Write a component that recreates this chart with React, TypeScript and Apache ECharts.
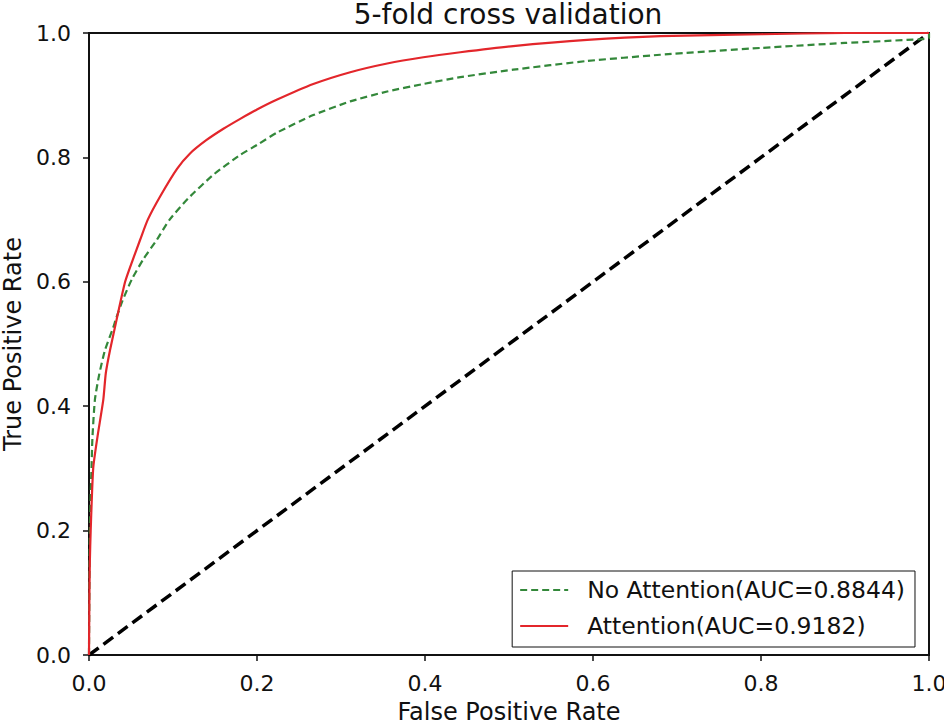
import React, { useEffect, useRef } from "react";
import * as echarts from "echarts";

const title = "5-fold cross validation";
const xName = "False Positive Rate";
const yName = "True Positive Rate";

const noAttnName = "No Attention(AUC=0.8844)";
const noAttnFpr = [0, 0.0005, 0.001, 0.002, 0.003, 0.004, 0.007, 0.012, 0.019, 0.029, 0.032, 0.04, 0.051, 0.065, 0.081, 0.096, 0.118, 0.148, 0.18, 0.2, 0.224, 0.267, 0.311, 0.355, 0.398, 0.442, 0.505, 0.593, 0.68, 0.8, 0.9, 0.99, 1.0, 1.0];
const noAttnTpr = [0, 0.12, 0.2, 0.26, 0.3, 0.347, 0.41, 0.45, 0.49, 0.527, 0.54, 0.57, 0.604, 0.637, 0.668, 0.7, 0.734, 0.772, 0.804, 0.82, 0.84, 0.868, 0.89, 0.906, 0.918, 0.929, 0.941, 0.955, 0.965, 0.976, 0.984, 0.99, 0.992, 1.0];

const attnName = "Attention(AUC=0.9182)";
const attnFpr = [0, 0.0005, 0.001, 0.002, 0.005, 0.01, 0.017, 0.02, 0.025, 0.033, 0.043, 0.052, 0.061, 0.07, 0.085, 0.105, 0.12, 0.14, 0.16, 0.18, 0.2, 0.224, 0.267, 0.311, 0.355, 0.398, 0.442, 0.505, 0.593, 0.68, 0.8, 0.9, 1.0];
const attnTpr = [0, 0.1, 0.15, 0.2, 0.3, 0.35, 0.41, 0.453, 0.49, 0.54, 0.6, 0.635, 0.668, 0.7, 0.738, 0.782, 0.806, 0.828, 0.846, 0.862, 0.877, 0.893, 0.918, 0.937, 0.951, 0.961, 0.969, 0.979, 0.989, 0.995, 0.998, 1.0, 1.0];

const chanceX = [0, 1];
const chanceY = [0, 1];

const zip = (a: number[], b: number[]) => a.map((v, i) => [v, b[i]]);

export default function App() {
  const ref = useRef<HTMLDivElement>(null);
  useEffect(() => {
    if (!ref.current) return;
    const chart = echarts.init(ref.current, undefined, { renderer: "svg" });
    const font = "DejaVu Sans";
    const axisCommon = {
      type: "value" as const,
      min: 0,
      max: 1,
      interval: 0.2,
      nameLocation: "middle" as const,
      nameTextStyle: { fontFamily: font, fontSize: 24, color: "#111" },
      axisLine: { show: true, lineStyle: { color: "#111", width: 2 } },
      axisTick: { show: true, inside: false, length: 6, lineStyle: { color: "#111", width: 1.5 } },
      splitLine: { show: false },
      axisLabel: {
        fontFamily: font,
        fontSize: 22,
        color: "#111",
        formatter: (v: number) => v.toFixed(1),
      },
    };
    chart.setOption({
      animation: false,
      backgroundColor: "#fff",
      title: {
        text: title,
        left: 508,
        textAlign: "center",
        top: 0,
        padding: 0,
        textStyle: { fontFamily: font, fontSize: 28, fontWeight: "normal", color: "#111" },
      },
      grid: {
        left: 89,
        right: 15,
        top: 33,
        bottom: 70,
        outerBoundsMode: "none",
        containLabel: false,
        show: true,
        borderColor: "#111",
        borderWidth: 2,
        backgroundColor: "transparent",
      },
      xAxis: {
        ...axisCommon,
        name: xName,
        nameGap: 45,
        axisLabel: { ...axisCommon.axisLabel, margin: 17 },
      },
      yAxis: {
        ...axisCommon,
        name: yName,
        nameGap: 63,
        axisLabel: { ...axisCommon.axisLabel, margin: 18 },
      },
      legend: {
        data: [noAttnName, attnName],
        orient: "vertical",
        right: 29,
        bottom: 78,
        itemWidth: 48,
        itemHeight: 24,
        itemGap: 12,
        padding: [7, 10, 9, 7],
        borderColor: "#111",
        borderWidth: 1,
        borderRadius: 0,
        backgroundColor: "#fff",
        itemStyle: { opacity: 0 },
        textStyle: { fontFamily: font, fontSize: 23.5, color: "#111", padding: [0, 0, 0, 14] },
      },
      series: [
        {
          name: "chance",
          type: "line",
          data: zip(chanceX, chanceY),
          symbol: "none",
          lineStyle: { color: "#000", width: 3.5, type: [12, 6] },
          z: 3,
        },
        {
          name: noAttnName,
          type: "line",
          data: zip(noAttnFpr, noAttnTpr),
          symbol: "none",
          smooth: 0.2,
          itemStyle: { color: "#33883a" },
          lineStyle: { color: "#33883a", width: 2.2, type: [7, 4] },
          z: 4,
        },
        {
          name: attnName,
          type: "line",
          data: zip(attnFpr, attnTpr),
          symbol: "none",
          smooth: 0.2,
          itemStyle: { color: "#e3262b" },
          lineStyle: { color: "#e3262b", width: 2.2 },
          z: 5,
        },
      ],
    });
    return () => chart.dispose();
  }, []);
  return <div ref={ref} style={{ width: 944, height: 725, position: "absolute", left: 0, top: 0 }} />;
}
